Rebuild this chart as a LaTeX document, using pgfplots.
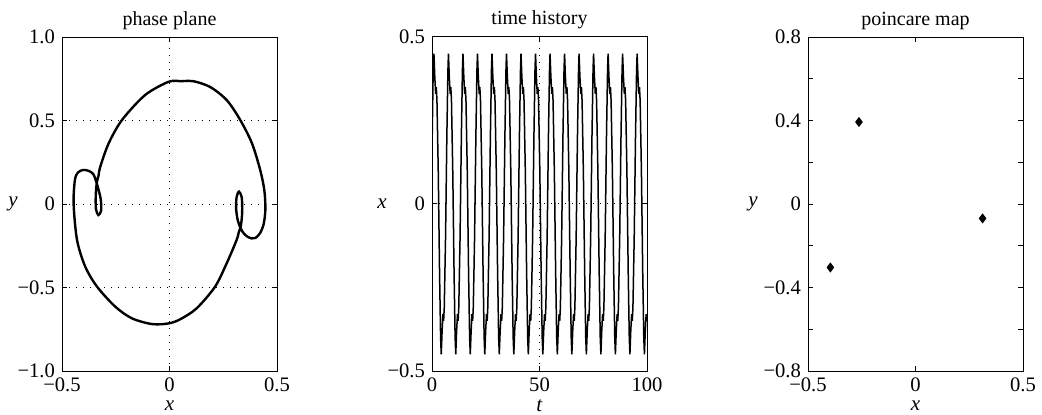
\documentclass[border=0pt]{standalone}
\usepackage{fontspec}
\setmainfont{Liberation Serif}
\usepackage{pgfplots}
\pgfplotsset{compat=1.18}

\pgfplotsset{
  panel/.style={
    width=107.5pt, height=167pt, scale only axis,
    axis line style={line width=0.5pt},
    tick style={black, line width=0.5pt},
    major tick length=2.5pt,
    tick align=inside,
    tick label style={font=\fontsize{10.3}{12}\selectfont},
    title style={font=\fontsize{10.5}{12}\selectfont},
    every axis title/.style={at={(axis description cs:0.5,1)}, anchor=base, yshift=6pt},
    grid style={black, line width=0.5pt, dash pattern=on 0.6pt off 2.9pt},
    /pgf/number format/assume math mode=true,
    every axis y label/.style={at={(axis description cs:0,0.5)}, anchor=center, xshift=-24.5pt, font=\fontsize{10.5}{12}\selectfont},
    every axis x label/.style={at={(axis description cs:0.5,0)}, anchor=center, yshift=-17.5pt, font=\fontsize{10.5}{12}\selectfont},
  }
}

\begin{document}
\begin{tikzpicture}
\useasboundingbox (-31pt,-21.5pt) rectangle (490pt,185.5pt);

% phase plane
\begin{axis}[panel, at={(0pt,0pt)},
  title={phase plane}, xlabel={\textit{x}}, ylabel={\textit{y}},
  xmin=-0.5, xmax=0.5, ymin=-1, ymax=1,
  xtick={-0.5,0,0.5}, xticklabels={−0.5,0,0.5},
  ytick={-1,-0.5,0,0.5,1}, yticklabels={−1.0,−0.5,0,0.5,1.0},
  grid=major,
]
\addplot[black, line width=1.2pt, smooth] coordinates {
  (0.05,0.735) (0.112,0.735) (0.19,0.70) (0.267,0.621) (0.33,0.501) (0.384,0.362)
  (0.422,0.203) (0.441,0.083) (0.446,-0.03) (0.438,-0.12) (0.421,-0.175) (0.400,-0.203)
  (0.382,-0.206) (0.362,-0.195) (0.345,-0.175) (0.333,-0.150) (0.318,-0.10) (0.310,-0.03)
  (0.312,0.04) (0.323,0.074) (0.336,0.04) (0.338,-0.05) (0.332,-0.13) (0.322,-0.17)
  (0.312,-0.216) (0.266,-0.355) (0.212,-0.495) (0.126,-0.625) (0.05,-0.69) (-0.004,-0.715)
  (-0.081,-0.719) (-0.174,-0.685) (-0.252,-0.615) (-0.337,-0.495) (-0.392,-0.375)
  (-0.43,-0.216) (-0.446,0.0) (-0.44,0.144) (-0.425,0.19) (-0.40,0.204) (-0.375,0.198)
  (-0.355,0.18) (-0.345,0.15) (-0.333,0.10) (-0.320,0.03) (-0.318,-0.04) (-0.331,-0.066)
  (-0.342,-0.03) (-0.343,0.05) (-0.338,0.13) (-0.33,0.17) (-0.322,0.223) (-0.283,0.363)
  (-0.221,0.503) (-0.113,0.653) (-0.004,0.732) (0.05,0.735)
};
\end{axis}

% time history
\begin{axis}[panel, at={(185pt,0pt)},
  title={time history}, xlabel={\textit{t}}, ylabel={\textit{x}},
  every axis y label/.append style={xshift=-0.5pt},
  xmin=0, xmax=100, ymin=-0.5, ymax=0.5,
  xtick={0,50,100},
  ytick={-0.5,0,0.5}, yticklabels={−0.5,0,0.5},
  grid=major,
]
\addplot[black, line width=0.75pt] coordinates {
  (0,0.16) (0.5,0.38) (0.9,0.45) (1.3,0.38) (1.7,0.33) (2.0,0.35) (2.3,0.31) (2.9,0.10) (3.5,-0.20) (4.0,-0.40) (4.3,-0.45) (4.7,-0.38) (5.1,-0.33) (5.4,-0.35) (5.7,-0.31) (6.3,-0.10) (6.9,0.20) (7.4,0.40)
  (7.65,0.45) (8.05,0.38) (8.45,0.33) (8.75,0.35) (9.05,0.31) (9.65,0.10) (10.25,-0.20) (10.75,-0.40) (11.05,-0.45) (11.45,-0.38) (11.85,-0.33) (12.15,-0.35) (12.45,-0.31) (13.05,-0.10) (13.65,0.20) (14.15,0.40)
  (14.4,0.45) (14.8,0.38) (15.2,0.33) (15.5,0.35) (15.8,0.31) (16.4,0.10) (17.0,-0.20) (17.5,-0.40) (17.8,-0.45) (18.2,-0.38) (18.6,-0.33) (18.9,-0.35) (19.2,-0.31) (19.8,-0.10) (20.4,0.20) (20.9,0.40)
  (21.15,0.45) (21.55,0.38) (21.95,0.33) (22.25,0.35) (22.55,0.31) (23.15,0.10) (23.75,-0.20) (24.25,-0.40) (24.55,-0.45) (24.95,-0.38) (25.35,-0.33) (25.65,-0.35) (25.95,-0.31) (26.55,-0.10) (27.15,0.20) (27.65,0.40)
  (27.9,0.45) (28.3,0.38) (28.7,0.33) (29.0,0.35) (29.3,0.31) (29.9,0.10) (30.5,-0.20) (31.0,-0.40) (31.3,-0.45) (31.7,-0.38) (32.1,-0.33) (32.4,-0.35) (32.7,-0.31) (33.3,-0.10) (33.9,0.20) (34.4,0.40)
  (34.65,0.45) (35.05,0.38) (35.45,0.33) (35.75,0.35) (36.05,0.31) (36.65,0.10) (37.25,-0.20) (37.75,-0.40) (38.05,-0.45) (38.45,-0.38) (38.85,-0.33) (39.15,-0.35) (39.45,-0.31) (40.05,-0.10) (40.65,0.20) (41.15,0.40)
  (41.4,0.45) (41.8,0.38) (42.2,0.33) (42.5,0.35) (42.8,0.31) (43.4,0.10) (44.0,-0.20) (44.5,-0.40) (44.8,-0.45) (45.2,-0.38) (45.6,-0.33) (45.9,-0.35) (46.2,-0.31) (46.8,-0.10) (47.4,0.20) (47.9,0.40)
  (48.15,0.45) (48.55,0.38) (48.95,0.33) (49.25,0.35) (49.55,0.31) (50.15,0.10) (50.75,-0.20) (51.25,-0.40) (51.55,-0.45) (51.95,-0.38) (52.35,-0.33) (52.65,-0.35) (52.95,-0.31) (53.55,-0.10) (54.15,0.20) (54.65,0.40)
  (54.9,0.45) (55.3,0.38) (55.7,0.33) (56.0,0.35) (56.3,0.31) (56.9,0.10) (57.5,-0.20) (58.0,-0.40) (58.3,-0.45) (58.7,-0.38) (59.1,-0.33) (59.4,-0.35) (59.7,-0.31) (60.3,-0.10) (60.9,0.20) (61.4,0.40)
  (61.65,0.45) (62.05,0.38) (62.45,0.33) (62.75,0.35) (63.05,0.31) (63.65,0.10) (64.25,-0.20) (64.75,-0.40) (65.05,-0.45) (65.45,-0.38) (65.85,-0.33) (66.15,-0.35) (66.45,-0.31) (67.05,-0.10) (67.65,0.20) (68.15,0.40)
  (68.4,0.45) (68.8,0.38) (69.2,0.33) (69.5,0.35) (69.8,0.31) (70.4,0.10) (71.0,-0.20) (71.5,-0.40) (71.8,-0.45) (72.2,-0.38) (72.6,-0.33) (72.9,-0.35) (73.2,-0.31) (73.8,-0.10) (74.4,0.20) (74.9,0.40)
  (75.15,0.45) (75.55,0.38) (75.95,0.33) (76.25,0.35) (76.55,0.31) (77.15,0.10) (77.75,-0.20) (78.25,-0.40) (78.55,-0.45) (78.95,-0.38) (79.35,-0.33) (79.65,-0.35) (79.95,-0.31) (80.55,-0.10) (81.15,0.20) (81.65,0.40)
  (81.9,0.45) (82.3,0.38) (82.7,0.33) (83.0,0.35) (83.3,0.31) (83.9,0.10) (84.5,-0.20) (85.0,-0.40) (85.3,-0.45) (85.7,-0.38) (86.1,-0.33) (86.4,-0.35) (86.7,-0.31) (87.3,-0.10) (87.9,0.20) (88.4,0.40)
  (88.65,0.45) (89.05,0.38) (89.45,0.33) (89.75,0.35) (90.05,0.31) (90.65,0.10) (91.25,-0.20) (91.75,-0.40) (92.05,-0.45) (92.45,-0.38) (92.85,-0.33) (93.15,-0.35) (93.45,-0.31) (94.05,-0.10) (94.65,0.20) (95.15,0.40)
  (95.4,0.45) (95.8,0.38) (96.2,0.33) (96.5,0.35) (96.8,0.31) (97.4,0.10) (98.0,-0.20) (98.5,-0.40) (98.8,-0.45) (99.2,-0.38) (99.6,-0.33) (99.9,-0.35) (100,-0.34)
};
\end{axis}

% poincare map
\begin{axis}[panel, at={(373pt,0pt)},
  title={poincare map}, xlabel={\textit{x}}, ylabel={\textit{y}},
  every axis y label/.append style={xshift=-3pt},
  xmin=-0.5, xmax=0.5, ymin=-0.8, ymax=0.8,
  xtick={-0.5,0,0.5}, xticklabels={−0.5,0,0.5},
  ytick={-0.8,-0.6,-0.4,-0.2,0,0.2,0.4,0.6,0.8},
  yticklabels={−0.8,{},−0.4,{},0,{},0.4,{},0.8},
]
\addplot[only marks, mark=diamond*, mark size=2.2pt, black] coordinates {
  (-0.263,0.393) (0.312,-0.069) (-0.396,-0.304)
};
\end{axis}
\end{tikzpicture}
\end{document}
